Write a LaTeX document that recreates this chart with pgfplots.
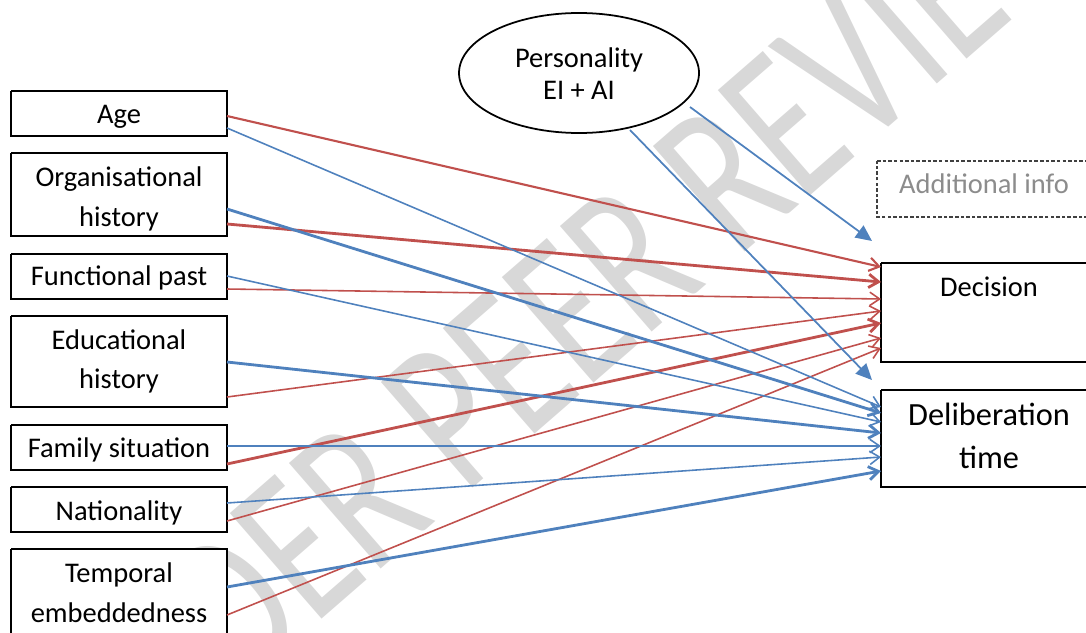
\documentclass[border=0pt]{standalone}
\usepackage{fontspec}
\setmainfont{Carlito}
\usepackage{pgfplots}
\pgfplotsset{compat=1.18}
\usetikzlibrary{arrows.meta}

\definecolor{dred}{HTML}{C0504D}
\definecolor{dblue}{HTML}{4F81BD}
\definecolor{wm}{HTML}{D8D8D8}
\newcommand\lbl{\fontsize{8.1}{10}\selectfont}
\newcommand\lblbig{\fontsize{9.2}{11}\selectfont}

\begin{document}
\begin{tikzpicture}
\path[use as bounding box, clip] (0,0) rectangle (10.86cm,6.32cm);
\begin{axis}[
  at={(0,0)}, anchor=south west,
  width=10.86cm, height=6.32cm, scale only axis,
  xmin=0, xmax=1086, ymin=0, ymax=632, y dir=reverse,
  hide axis, clip=false,
  box/.style={draw=black, line width=0.45pt, fill=white},
  barb/.style={-{Straight Barb[length=2.8pt,width=3.8pt]}},
  r1/.style={barb, dred, line width=0.45pt},
  r2/.style={barb, dred, line width=0.8pt},
  b1/.style={barb, dblue, line width=0.45pt},
  b2/.style={barb, dblue, line width=0.8pt},
  pers/.style={-{Triangle[length=4.6pt,width=4.2pt]}, dblue, line width=0.5pt},
]

% watermark
\node[rotate=41, xscale=0.73, text=wm, inner sep=0pt] at (axis cs:559,322)
  {\fontsize{62}{62}\selectfont UNDER PEER REVIEW};

% left boxes
\addplot[box] coordinates {(11,91) (227,91) (227,136) (11,136) (11,91)};
\addplot[box] coordinates {(11,153) (227,153) (227,236) (11,236) (11,153)};
\addplot[box] coordinates {(11,254) (227,254) (227,299) (11,299) (11,254)};
\addplot[box] coordinates {(11,316) (227,316) (227,407) (11,407) (11,316)};
\addplot[box] coordinates {(11,425) (227,425) (227,470) (11,470) (11,425)};
\addplot[box] coordinates {(11,487) (227,487) (227,532) (11,532) (11,487)};
\addplot[box] coordinates {(11,549) (227,549) (227,645) (11,645) (11,549)};

% right boxes
\addplot[box] coordinates {(881,263) (1095,263) (1095,362) (881,362) (881,263)};
\addplot[box] coordinates {(881,390) (1095,390) (1095,487) (881,487) (881,390)};
\addplot[draw=black!75, line width=0.45pt, dash pattern=on 1pt off 0.6pt]
  coordinates {(877,161) (1095,161) (1095,217) (877,217) (877,161)};

% personality
\draw[black, line width=0.5pt, fill=white] (axis cs:579,73) ellipse [x radius=1.2cm, y radius=0.6cm];

% red arrows -> Decision
\addplot[r1, line width=0.6pt] coordinates {(227,116) (881,267)};
\addplot[r2] coordinates {(227,224) (881,282)};
\addplot[r1] coordinates {(227,289) (881,299)};
\addplot[r1] coordinates {(227,397) (881,311)};
\addplot[r2] coordinates {(227,464) (881,323)};
\addplot[r1] coordinates {(227,521) (881,338)};
\addplot[r1] coordinates {(227,615) (881,348)};

% blue arrows -> Deliberation time
\addplot[b1] coordinates {(227,128) (881,407)};
\addplot[b2] coordinates {(227,209) (881,413)};
\addplot[b1] coordinates {(227,276) (881,422)};
\addplot[b2] coordinates {(227,362) (881,433)};
\addplot[b1] coordinates {(227,446) (881,446)};
\addplot[b1] coordinates {(227,503) (881,457)};
\addplot[b2] coordinates {(227,587) (881,471)};

% personality arrows
\addplot[pers] coordinates {(690,107) (872,241)};
\addplot[pers] coordinates {(630,130) (872,380)};

% labels
\node[anchor=base, font=\lbl] at (axis cs:119,124) {Age};
\node[anchor=base, font=\lbl] at (axis cs:119,186) {Organisational};
\node[anchor=base, font=\lbl] at (axis cs:119,226) {history};
\node[anchor=base, font=\lbl] at (axis cs:119,285) {Functional past};
\node[anchor=base, font=\lbl] at (axis cs:119,349) {Educational};
\node[anchor=base, font=\lbl] at (axis cs:119,388) {history};
\node[anchor=base, font=\lbl] at (axis cs:119,457) {Family situation};
\node[anchor=base, font=\lbl] at (axis cs:119,520) {Nationality};
\node[anchor=base, font=\lbl] at (axis cs:119,582) {Temporal};
\node[anchor=base, font=\lbl] at (axis cs:119,622) {embeddedness};
\node[anchor=base, font=\lbl] at (axis cs:579,67) {Personality};
\node[anchor=base, font=\lbl] at (axis cs:579,100) {EI + AI};
\node[anchor=base, font=\lbl, text=black!45] at (axis cs:984,193) {Additional info};
\node[anchor=base, font=\lbl] at (axis cs:989,296) {Decision};
\node[anchor=base, font=\lblbig] at (axis cs:989,425) {Deliberation};
\node[anchor=base, font=\lblbig] at (axis cs:989,468) {time};
\end{axis}
\end{tikzpicture}
\end{document}
